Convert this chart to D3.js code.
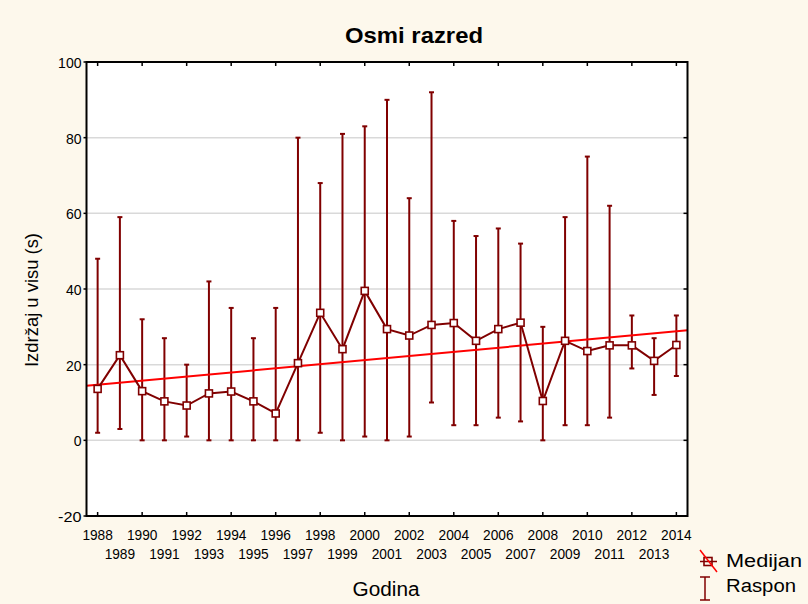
<!DOCTYPE html>
<html>
<head>
<meta charset="utf-8">
<script src="https://cdn.jsdelivr.net/npm/d3@7"></script>
<style>
  body { margin: 0; background: #fdf8ec; }
  svg { display: block; font-family: "Liberation Sans", Arial, sans-serif; }
</style>
</head>
<body>
<svg width="808" height="604"></svg>
<script>
var years = d3.range(1988, 2015);
var medians = [13.6, 22.5, 13.0, 10.3, 9.2, 12.4, 12.9, 10.3, 7.1, 20.4,
               33.7, 24.1, 39.5, 29.4, 27.7, 30.5, 31.0, 26.3, 29.4, 31.1,
               10.4, 26.3, 23.6, 25.1, 25.1, 21.0, 25.2];
var rangeMin = [2, 3, 0, 0, 1, 0, 0, 0, 0, 0,
                2, 0, 1, 0, 1, 10, 4, 4, 6, 5,
                0, 4, 4, 6, 19, 12, 17];
var rangeMax = [48, 59, 32, 27, 20, 42, 35, 27, 35, 80,
                68, 81, 83, 90, 64, 92, 58, 54, 56, 52,
                30, 59, 75, 62, 33, 27, 33];
// trend line at the plot edges
var trendX = [1987.5, 2014.5];
var trendY = [14.4, 29.1];
var yTicks = [-20, 0, 20, 40, 60, 80, 100];

var svg = d3.select("svg"),
    pLeft = 86.5, pRight = 687.5, pTop = 62, pBottom = 516;

var x = d3.scaleLinear().domain([1987.5, 2014.5]).range([pLeft, pRight]);
var y = d3.scaleLinear().domain([-20, 100]).range([pBottom, pTop]);

svg.append("rect").attr("x", pLeft).attr("y", pTop)
  .attr("width", pRight - pLeft).attr("height", pBottom - pTop).attr("fill", "white");

// grid
svg.append("g").selectAll("line").data(yTicks.filter(d => d > -20 && d < 100)).enter()
  .append("line")
  .attr("x1", pLeft).attr("x2", pRight)
  .attr("y1", d => y(d)).attr("y2", d => y(d))
  .attr("stroke", "#d9d9d9").attr("stroke-width", 1.5);

// y labels
svg.append("g").selectAll("text").data(yTicks).enter()
  .append("text")
  .attr("x", pLeft - 5).attr("y", d => y(d) + 6)
  .attr("text-anchor", "end").attr("font-size", 15)
  .attr("textLength", d => String(d).length * 7.8).attr("lengthAdjust", "spacingAndGlyphs")
  .text(d => d);

// ticks
var tk = svg.append("g").attr("stroke", "black").attr("stroke-width", 1.5);
yTicks.forEach(function(d) {
  tk.append("line").attr("x1", pLeft - 3).attr("x2", pLeft).attr("y1", y(d)).attr("y2", y(d));
  tk.append("line").attr("x1", pRight - 4).attr("x2", pRight).attr("y1", y(d)).attr("y2", y(d));
});
years.filter(d => d % 2 == 0).forEach(function(d) {
  tk.append("line").attr("x1", x(d)).attr("x2", x(d)).attr("y1", pTop).attr("y2", pTop + 4);
  tk.append("line").attr("x1", x(d)).attr("x2", x(d)).attr("y1", pBottom).attr("y2", pBottom - 4);
});

// x labels
svg.append("g").selectAll("text").data(years).enter()
  .append("text")
  .attr("x", d => x(d))
  .attr("y", d => d % 2 == 0 ? 539.5 : 558.5)
  .attr("text-anchor", "middle").attr("font-size", 15)
  .attr("textLength", 30.5).attr("lengthAdjust", "spacingAndGlyphs")
  .text(d => d);

var col = "#800000";

// error bars
var eb = svg.append("g").attr("stroke", col).attr("stroke-width", 2);
years.forEach(function(d, i) {
  eb.append("line").attr("x1", x(d)).attr("x2", x(d))
    .attr("y1", y(rangeMin[i])).attr("y2", y(rangeMax[i]));
  eb.append("line").attr("x1", x(d) - 2.5).attr("x2", x(d) + 2.5)
    .attr("y1", y(rangeMin[i])).attr("y2", y(rangeMin[i]));
  eb.append("line").attr("x1", x(d) - 2.5).attr("x2", x(d) + 2.5)
    .attr("y1", y(rangeMax[i])).attr("y2", y(rangeMax[i]));
});

// trend
svg.append("line")
  .attr("x1", x(trendX[0])).attr("y1", y(trendY[0]))
  .attr("x2", x(trendX[1])).attr("y2", y(trendY[1]))
  .attr("stroke", "#ff0000").attr("stroke-width", 2);

// median line
svg.append("path")
  .datum(years.map((d, i) => [d, medians[i]]))
  .attr("d", d3.line().x(d => x(d[0])).y(d => y(d[1])))
  .attr("fill", "none").attr("stroke", col).attr("stroke-width", 2);

svg.append("g").selectAll("rect").data(years).enter()
  .append("rect")
  .attr("x", d => x(d) - 3.5).attr("y", (d, i) => y(medians[i]) - 3.5)
  .attr("width", 7).attr("height", 7)
  .attr("fill", "white").attr("stroke", col).attr("stroke-width", 1.6);

// frame
svg.append("rect").attr("x", pLeft).attr("y", pTop)
  .attr("width", pRight - pLeft).attr("height", pBottom - pTop)
  .attr("fill", "none").attr("stroke", "black").attr("stroke-width", 2);

// titles
svg.append("text").attr("x", 414).attr("y", 43).attr("text-anchor", "middle")
  .attr("font-size", 22).attr("font-weight", "bold")
  .attr("textLength", 138).attr("lengthAdjust", "spacingAndGlyphs").text("Osmi razred");
svg.append("text").attr("x", 386).attr("y", 596).attr("text-anchor", "middle")
  .attr("font-size", 20)
  .attr("textLength", 67).attr("lengthAdjust", "spacingAndGlyphs").text("Godina");
svg.append("text").attr("transform", "translate(38,300) rotate(-90)")
  .attr("text-anchor", "middle").attr("font-size", 18)
  .attr("textLength", 134).attr("lengthAdjust", "spacingAndGlyphs").text("Izdržaj u visu (s)");

// legend
var lg = svg.append("g");
lg.append("line").attr("x1", 700).attr("x2", 717).attr("y1", 561.5).attr("y2", 561.5)
  .attr("stroke", col).attr("stroke-width", 1.5);
lg.append("rect").attr("x", 704).attr("y", 557.5).attr("width", 8).attr("height", 8)
  .attr("fill", "none").attr("stroke", col).attr("stroke-width", 1.6);
lg.append("line").attr("x1", 700).attr("x2", 717).attr("y1", 550).attr("y2", 572)
  .attr("stroke", "#ff0000").attr("stroke-width", 1.5);
lg.append("text").attr("x", 726).attr("y", 567).attr("font-size", 18)
  .attr("textLength", 76).attr("lengthAdjust", "spacingAndGlyphs").text("Medijan");

lg.append("line").attr("x1", 705).attr("x2", 705).attr("y1", 577).attr("y2", 600)
  .attr("stroke", col).attr("stroke-width", 1.5);
lg.append("line").attr("x1", 700).attr("x2", 710).attr("y1", 577).attr("y2", 577)
  .attr("stroke", col).attr("stroke-width", 1.5);
lg.append("line").attr("x1", 700).attr("x2", 710).attr("y1", 600).attr("y2", 600)
  .attr("stroke", col).attr("stroke-width", 1.5);
lg.append("text").attr("x", 726).attr("y", 592).attr("font-size", 18)
  .attr("textLength", 70).attr("lengthAdjust", "spacingAndGlyphs").text("Raspon");
</script>
</body>
</html>
